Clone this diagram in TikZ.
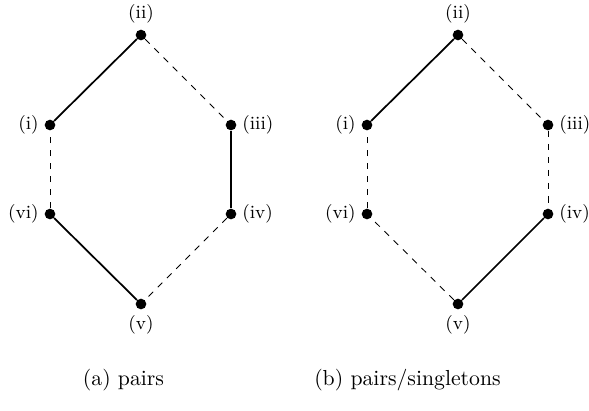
\documentclass[tikz,border=0pt]{standalone}
\begin{document}
\begin{tikzpicture}[x=0.46pt,y=-0.46pt,
  vtx/.style={circle,fill=black,inner sep=0pt,minimum size=4.9pt},
  lbl/.style={font=\fontsize{8.6}{10}\selectfont,inner sep=2.4pt},
  solidedge/.style={line width=0.8pt},
  dashededge/.style={line width=0.4pt,dashed},
  capt/.style={font=\normalsize,inner sep=0pt}]
\useasboundingbox (0,0) rectangle (589,410);
% left hexagon
\node[vtx,label={[lbl,label distance=0pt]above:(ii)}] (aii) at (141,35) {};
\node[vtx,label={[lbl,label distance=0pt]left:(i)}] (ai) at (50,125) {};
\node[vtx,label={[lbl,label distance=0pt]right:(iii)}] (aiii) at (231,125) {};
\node[vtx,label={[lbl,label distance=0pt]left:(vi)}] (avi) at (50,214) {};
\node[vtx,label={[lbl,label distance=0pt]right:(iv)}] (aiv) at (231,214) {};
\node[vtx,label={[lbl,label distance=0pt]below:(v)}] (av) at (141,304) {};
\draw[solidedge] (ai) -- (aii);
\draw[dashededge] (aii) -- (aiii);
\draw[solidedge] (aiii) -- (aiv);
\draw[dashededge] (aiv) -- (av);
\draw[solidedge] (av) -- (avi);
\draw[dashededge] (avi) -- (ai);
% right hexagon
\node[vtx,label={[lbl,label distance=0pt]above:(ii)}] (bii) at (458,35) {};
\node[vtx,label={[lbl,label distance=0pt]left:(i)}] (bi) at (367,125) {};
\node[vtx,label={[lbl,label distance=0pt]right:(iii)}] (biii) at (548,125) {};
\node[vtx,label={[lbl,label distance=0pt]left:(vi)}] (bvi) at (367,214) {};
\node[vtx,label={[lbl,label distance=0pt]right:(iv)}] (biv) at (548,214) {};
\node[vtx,label={[lbl,label distance=0pt]below:(v)}] (bv) at (458,304) {};
\draw[solidedge] (bi) -- (bii);
\draw[dashededge] (bii) -- (biii);
\draw[dashededge] (biii) -- (biv);
\draw[solidedge] (biv) -- (bv);
\draw[dashededge] (bv) -- (bvi);
\draw[dashededge] (bvi) -- (bi);
% captions
\node[capt] (capa) at (123.5,380) {(a) pairs};
\node[capt] (capb) at (407.5,380) {(b) pairs/singletons};
\end{tikzpicture}
\end{document}
